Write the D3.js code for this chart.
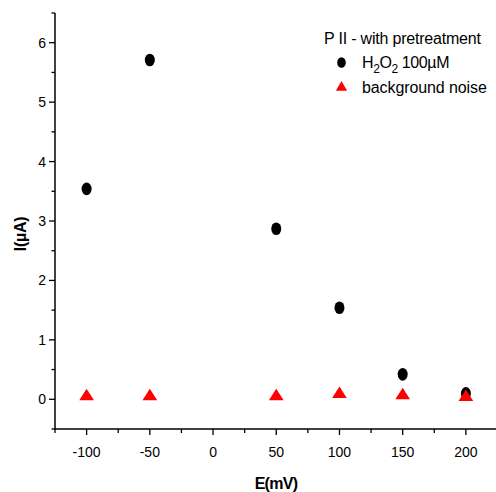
<!DOCTYPE html>
<html>
<head>
<meta charset="utf-8">
<script src="https://cdn.jsdelivr.net/npm/d3@7"></script>
<style>
  body { margin: 0; background: #fff; }
  text { font-family: "Liberation Sans", Arial, sans-serif; fill: #000; }
</style>
</head>
<body>
<div id="chart"></div>
<script>
// data
const potentials = [-100, -50, 50, 100, 150, 200];
const h2o2Current = [3.54, 5.71, 2.87, 1.54, 0.42, 0.10];
const noiseCurrent = [0.03, 0.03, 0.03, 0.07, 0.05, 0.02];
const xTicks = [-100, -50, 0, 50, 100, 150, 200];
const xMinor = [-125, -75, -25, 25, 75, 125, 175];
const yTicks = [0, 1, 2, 3, 4, 5, 6];
const yMinor = [-0.5, 0.5, 1.5, 2.5, 3.5, 4.5, 5.5, 6.5];

const width = 496, height = 492;

const svg = d3.select("#chart").append("svg")
    .attr("width", width)
    .attr("height", height);

const x = d3.scaleLinear().domain([-125, 225]).range([55, 497.5]);
const y = d3.scaleLinear().domain([-0.5, 6.5]).range([429, 13]);

// axes
const xAxis = svg.append("g").attr("transform", `translate(0,${y(-0.5)})`);
xAxis.append("line")
    .attr("x1", x(-125)).attr("x2", width)
    .attr("stroke", "#000").attr("stroke-width", 1.5);
xAxis.selectAll(".major").data(xTicks).enter().append("line")
    .attr("x1", d => x(d)).attr("x2", d => x(d))
    .attr("y1", 0).attr("y2", 6)
    .attr("stroke", "#000").attr("stroke-width", 1.3);
xAxis.selectAll(".minor").data(xMinor).enter().append("line")
    .attr("x1", d => x(d)).attr("x2", d => x(d))
    .attr("y1", 0).attr("y2", 4)
    .attr("stroke", "#000").attr("stroke-width", 1.3);
xAxis.selectAll(".lbl").data(xTicks).enter().append("text")
    .attr("x", d => x(d)).attr("y", 28)
    .attr("text-anchor", "middle")
    .style("font-size", "14px")
    .text(d => d);

const yAxis = svg.append("g").attr("transform", `translate(${x(-125)},0)`);
yAxis.append("line")
    .attr("y1", y(-0.5)).attr("y2", y(6.5))
    .attr("stroke", "#000").attr("stroke-width", 1.5);
yAxis.selectAll(".major").data(yTicks).enter().append("line")
    .attr("y1", d => y(d)).attr("y2", d => y(d))
    .attr("x1", 0).attr("x2", -6)
    .attr("stroke", "#000").attr("stroke-width", 1.3);
yAxis.selectAll(".minor").data(yMinor).enter().append("line")
    .attr("y1", d => y(d)).attr("y2", d => y(d))
    .attr("x1", 0).attr("x2", -3.5)
    .attr("stroke", "#000").attr("stroke-width", 1.3);
yAxis.selectAll(".lbl").data(yTicks).enter().append("text")
    .attr("x", -9).attr("y", d => y(d) + 5)
    .attr("text-anchor", "end")
    .style("font-size", "14px")
    .text(d => d);

// axis titles
svg.append("text")
    .attr("x", 276).attr("y", 489)
    .attr("text-anchor", "middle")
    .style("font-size", "16px").style("font-weight", "bold")
    .style("letter-spacing", "-0.7px")
    .text("E(mV)");

svg.append("text")
    .attr("transform", "translate(25.5,234) rotate(-90)")
    .attr("text-anchor", "middle")
    .style("font-size", "16px").style("font-weight", "bold")
    .style("letter-spacing", "-0.3px")
    .text("I(\u00b5A)");

// points
svg.selectAll(".dot").data(potentials).enter().append("ellipse")
    .attr("cx", d => x(d))
    .attr("cy", (d, i) => y(h2o2Current[i]))
    .attr("rx", 5).attr("ry", 6.3)
    .attr("fill", "#000");

const tri = d3.symbol().type(d3.symbolTriangle).size(85);
svg.selectAll(".tri").data(potentials).enter().append("path")
    .attr("d", tri)
    .attr("transform", (d, i) => `translate(${x(d)},${y(noiseCurrent[i]) - 1}) scale(1.05,0.95)`)
    .attr("fill", "#ff0000");

// legend
const leg = svg.append("g");
leg.append("text")
    .attr("x", 324).attr("y", 44)
    .style("font-size", "16px")
    .style("letter-spacing", "-0.2px")
    .text("P II - with pretreatment");

leg.append("ellipse")
    .attr("cx", 341.5).attr("cy", 62.5)
    .attr("rx", 4.3).attr("ry", 5.3)
    .attr("fill", "#000");
const h2 = leg.append("text")
    .attr("x", 362).attr("y", 68)
    .style("font-size", "16px")
    .style("letter-spacing", "-0.4px");
h2.append("tspan").text("H");
h2.append("tspan").attr("dy", 5).style("font-size", "12px").text("2");
h2.append("tspan").attr("dy", -5).text("O");
h2.append("tspan").attr("dy", 5).style("font-size", "12px").text("2");
h2.append("tspan").attr("dy", -5).text(" 100\u00b5M");

leg.append("path")
    .attr("d", d3.symbol().type(d3.symbolTriangle).size(55))
    .attr("transform", "translate(341.5,87.5)")
    .attr("fill", "#ff0000");
leg.append("text")
    .attr("x", 362).attr("y", 93)
    .style("font-size", "16px")
    .style("letter-spacing", "-0.1px")
    .text("background noise");
</script>
</body>
</html>
